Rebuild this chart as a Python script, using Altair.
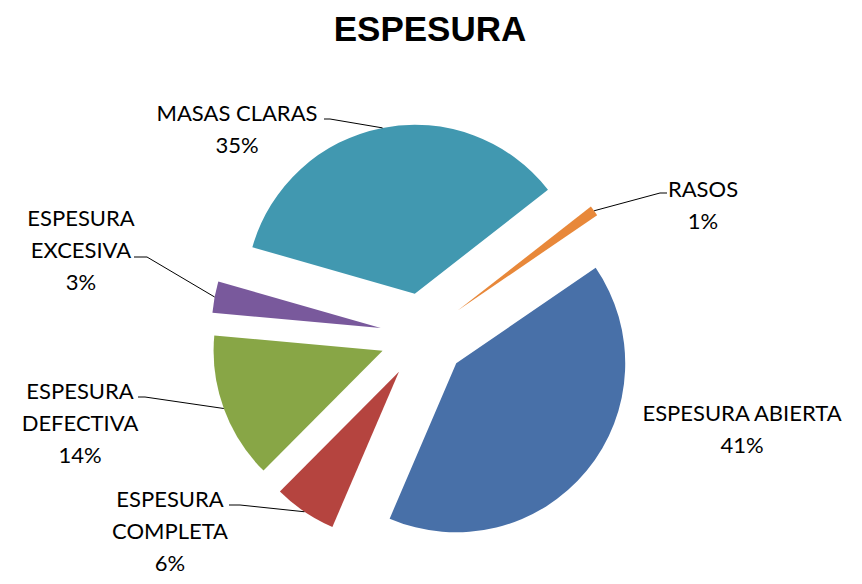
import altair as alt
import pandas as pd

# ---- data ----
categories = ["RASOS", "ESPESURA ABIERTA", "ESPESURA COMPLETA", "ESPESURA DEFECTIVA",
              "ESPESURA EXCESIVA", "MASAS CLARAS"]
label_names = ["RASOS", "ESPESURA ABIERTA", "ESPESURA\nCOMPLETA", "ESPESURA\nDEFECTIVA",
               "ESPESURA\nEXCESIVA", "MASAS CLARAS"]
values = [1, 41, 6, 14, 3, 35]
slice_order = [0, 1, 2, 3, 4, 5]
colors = ["#E8883A", "#4870A8", "#B5443F", "#88A646", "#79599C", "#4198B0"]

# ---- layout (page pixels; converted to view pixels below) ----
PAGE_MARGIN = 8
label_x_page = [703, 742, 170, 80, 81, 237]
label_y_page = [197, 421, 507, 399, 226, 121]   # baseline of first label line
attach_x_page = [667, None, 229, 138, 134, 324]
attach_y_page = [193, None, 505, 397, 257, 119]
elbow_x_page = [660, None, 240, 145, 147, 330]

CX, CY = 423 - PAGE_MARGIN, 336 - PAGE_MARGIN   # pie centre
EXPLODE = 43
RADIUS = 169
START = 0.9076  # radians, clockwise from 12 o'clock
TWO_PI = 6.283185307179586
FONT = "Lato"


def to_view(vals):
    return [None if v is None else v - PAGE_MARGIN for v in vals]


df = pd.DataFrame({
    "cat": categories,
    "lbl": label_names,
    "value": values,
    "ord": slice_order,
    "lx": to_view(label_x_page),
    "ly": to_view(label_y_page),
    "ax": to_view(attach_x_page),
    "ay": to_view(attach_y_page),
    "ex": to_view(elbow_x_page),
})

base = (
    alt.Chart(df)
    .transform_joinaggregate(total="sum(value)")
    .transform_window(cum="sum(value)", sort=[alt.SortField("ord")], frame=[None, 0])
    .transform_calculate(
        s="datum.cum - datum.value",
        e="datum.cum",
        mid=f"{START} + {TWO_PI} * (datum.cum - datum.value / 2) / datum.total",
    )
    .transform_calculate(
        ox=f"{CX} + {EXPLODE} * sin(datum.mid)",
        oy=f"{CY} - {EXPLODE} * cos(datum.mid)",
        px=f"{CX} + {EXPLODE + RADIUS} * sin(datum.mid)",
        py=f"{CY} - {EXPLODE + RADIUS} * cos(datum.mid)",
        txt="datum.lbl + '\\n' + format(datum.value / datum.total, '.0%')",
    )
)

arcs = base.mark_arc(outerRadius=RADIUS).encode(
    theta=alt.Theta("s:Q", stack=None,
                    scale=alt.Scale(domain=[0, 100], range=[START, START + TWO_PI])),
    theta2="e:Q",
    x=alt.X("ox:Q", scale=None, axis=None),
    y=alt.Y("oy:Q", scale=None, axis=None),
    color=alt.Color("cat:N", scale=alt.Scale(domain=categories, range=colors), legend=None),
    order=alt.Order("ord:Q"),
)

leader_h = base.transform_filter("datum.ax != null").mark_rule(color="black", strokeWidth=1).encode(
    x=alt.X("ax:Q", scale=None, axis=None),
    x2="ex:Q",
    y=alt.Y("ay:Q", scale=None, axis=None),
)

leader_d = base.transform_filter("datum.ax != null").mark_rule(color="black", strokeWidth=1).encode(
    x=alt.X("ex:Q", scale=None, axis=None),
    y=alt.Y("ay:Q", scale=None, axis=None),
    x2="px:Q",
    y2="py:Q",
)

labels = base.mark_text(
    font=FONT, fontSize=22, color="black", align="center", baseline="alphabetic",
    lineBreak="\n", lineHeight=32,
).encode(
    x=alt.X("lx:Q", scale=None, axis=None),
    y=alt.Y("ly:Q", scale=None, axis=None),
    text="txt:N",
)

title = alt.Chart(pd.DataFrame({"t": ["ESPESURA"]})).mark_text(
    font="Liberation Sans", fontSize=35, fontWeight="bold", color="black", align="center",
    baseline="alphabetic",
).encode(
    x=alt.value(430 - PAGE_MARGIN),
    y=alt.value(41 - PAGE_MARGIN),
    text="t:N",
)

chart = (
    alt.layer(arcs, leader_h, leader_d, labels, title)
    .properties(width=846, height=568, padding=0, autosize=alt.AutoSizeParams(type="none"),
                background="white")
    .configure_view(stroke=None)
)

chart.save("out.html", embed_options={"renderer": "svg", "actions": False})
